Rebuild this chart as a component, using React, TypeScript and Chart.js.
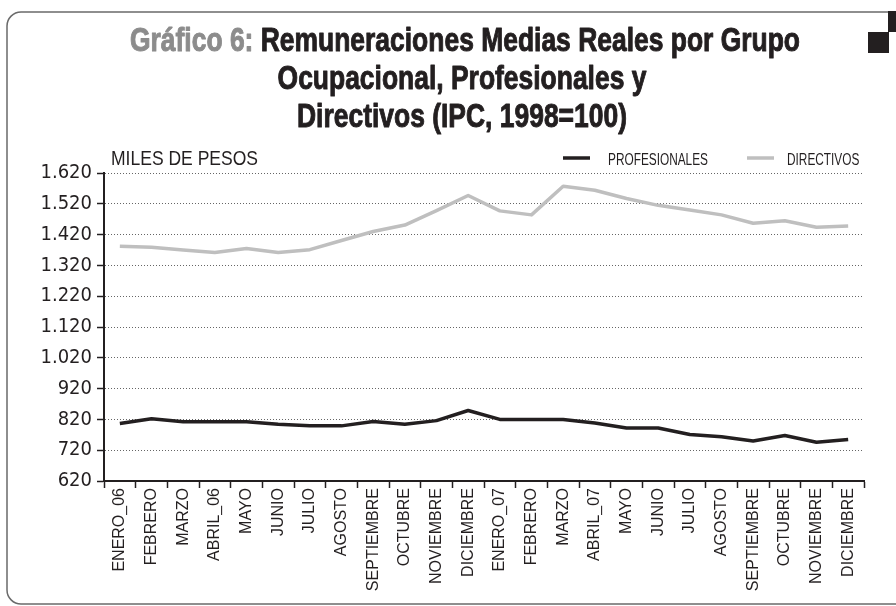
import React, { useEffect, useRef } from "react";
import { Chart, registerables } from "chart.js";

Chart.register(...registerables);

// ---------- data ----------
const categories = [
  "ENERO_06", "FEBRERO", "MARZO", "ABRIL_06", "MAYO", "JUNIO", "JULIO", "AGOSTO",
  "SEPTIEMBRE", "OCTUBRE", "NOVIEMBRE", "DICIEMBRE",
  "ENERO_07", "FEBRERO", "MARZO", "ABRIL_07", "MAYO", "JUNIO", "JULIO", "AGOSTO",
  "SEPTIEMBRE", "OCTUBRE", "NOVIEMBRE", "DICIEMBRE",
];
const profesionales = [
  807, 822, 812, 812, 812, 804, 799, 799, 813, 804, 816, 849,
  820, 820, 820, 808, 792, 792, 771, 764, 750, 768, 746, 755,
];
const directivos = [
  1382, 1379, 1370, 1362, 1375, 1362, 1371, 1401, 1430, 1451, 1498, 1547,
  1497, 1484, 1577, 1564, 1537, 1515, 1500, 1484, 1457, 1465, 1444, 1448,
];
const seriesNames = ["PROFESIONALES", "DIRECTIVOS"];
const yMin = 620;
const yMax = 1620;
const yStep = 100;
const titlePrefix = "Gráfico 6: ";
const titleLines = [
  "Remuneraciones Medias Reales por Grupo",
  "Ocupacional, Profesionales y",
  "Directivos (IPC, 1998=100)",
];
const yAxisTitle = "MILES DE PESOS";

// ---------- styles ----------
const DARK = "#231f20";
const LIGHT = "#bfbfbf";
const GREY_TITLE = "#8c8c8c";
const NARROW = '"Liberation Sans Narrow", "DejaVu Sans Condensed", "Arial Narrow", "Liberation Sans", sans-serif';
const SANS = '"Liberation Sans", Arial, Helvetica, sans-serif';

const fmt = (n: number) => String(n).replace(/\B(?=(\d{3})+(?!\d))/g, ".");

function drawScaled(ctx: CanvasRenderingContext2D, text: string, x: number, y: number, sx: number, stroke = 0) {
  ctx.save();
  ctx.translate(x, y);
  ctx.scale(sx, 1);
  ctx.fillText(text, 0, 0);
  if (stroke > 0) {
    ctx.lineWidth = stroke;
    ctx.lineJoin = "round";
    ctx.strokeStyle = ctx.fillStyle as string;
    ctx.strokeText(text, 0, 0);
  }
  ctx.restore();
}

const decorPlugin = {
  id: "decor",
  beforeDraw(chart: any) {
    const ctx: CanvasRenderingContext2D = chart.ctx;
    ctx.save();
    // frame
    ctx.strokeStyle = "#6a6a6a";
    ctx.lineWidth = 1.5;
    ctx.beginPath();
    (ctx as any).roundRect(7, 12, 920, 592, 14);
    ctx.stroke();
    // black squares top-right
    ctx.fillStyle = DARK;
    ctx.fillRect(888, 11, 8, 21);
    ctx.fillRect(868, 32, 21, 21);

    // title
    ctx.textBaseline = "alphabetic";
    ctx.textAlign = "left";
    ctx.font = `bold 34px ${SANS}`;
    const wPrefix = ctx.measureText(titlePrefix).width;
    const w1 = ctx.measureText(titleLines[0]).width;
    const sx = 670 / (wPrefix + w1);
    const cx = 465;
    const baselines = [51, 89, 127];
    const startX = cx - ((wPrefix + w1) * sx) / 2;
    ctx.fillStyle = GREY_TITLE;
    drawScaled(ctx, titlePrefix, startX, baselines[0], sx, 1);
    ctx.fillStyle = DARK;
    drawScaled(ctx, titleLines[0], startX + wPrefix * sx, baselines[0], sx, 1);
    for (let i = 1; i < titleLines.length; i++) {
      const w = ctx.measureText(titleLines[i]).width * sx;
      drawScaled(ctx, titleLines[i], cx - 3 - w / 2, baselines[i], sx, 1);
    }

    // y axis title
    ctx.font = `21px ${SANS}`;
    const wm = ctx.measureText(yAxisTitle).width;
    ctx.fillStyle = DARK;
    drawScaled(ctx, yAxisTitle, 111, 165, 147 / wm);
    ctx.restore();
  },
  afterDraw(chart: any) {
    const ctx: CanvasRenderingContext2D = chart.ctx;
    ctx.save();
    ctx.font = `16px ${SANS}`;
    const wp = ctx.measureText(seriesNames[0]).width;
    const lsx = 100 / wp;
    const items = [
      { lx: 563, tx: 608 },
      { lx: 747, tx: 787 },
    ];
    chart.data.datasets.forEach((ds: any, i: number) => {
      const it = items[i];
      ctx.strokeStyle = ds.borderColor;
      ctx.lineWidth = 3.5;
      ctx.beginPath();
      ctx.moveTo(it.lx, 158);
      ctx.lineTo(it.lx + 27, 158);
      ctx.stroke();
      ctx.fillStyle = DARK;
      ctx.textBaseline = "alphabetic";
      drawScaled(ctx, ds.label, it.tx, 164.5, lsx);
    });
    ctx.restore();
  },
};

export default function App() {
  const ref = useRef<HTMLCanvasElement>(null);
  useEffect(() => {
    if (!ref.current) return;
    const chart = new Chart(ref.current, {
      type: "line",
      data: {
        labels: categories,
        datasets: [
          {
            label: seriesNames[0],
            data: profesionales,
            borderColor: DARK,
            backgroundColor: DARK,
            borderWidth: 3.5,
            pointRadius: 0,
            tension: 0,
            borderJoinStyle: "round",
          },
          {
            label: seriesNames[1],
            data: directivos,
            borderColor: LIGHT,
            backgroundColor: LIGHT,
            borderWidth: 3.5,
            pointRadius: 0,
            tension: 0,
            borderJoinStyle: "round",
          },
        ],
      },
      options: {
        responsive: false,
        animation: false,
        devicePixelRatio: 1,
        layout: { padding: { top: 173, right: 32, left: 0, bottom: 0 } },
        plugins: {
          legend: { display: false },
          tooltip: { enabled: false },
          title: { display: false },
        },
        scales: {
          x: {
            type: "category",
            offset: true,
            grid: {
              display: true,
              drawOnChartArea: false,
              drawTicks: true,
              offset: true,
              tickLength: 7,
              tickColor: DARK,
              tickWidth: 1.5,
            },
            border: { display: true, color: DARK, width: 2 },
            ticks: {
              autoSkip: false,
              maxRotation: 90,
              minRotation: 90,
              padding: 0,
              color: DARK,
              font: { family: SANS, size: 16 },
            },
            afterFit: (s: any) => {
              s.height = 125;
            },
          },
          y: {
            min: yMin,
            max: yMax,
            ticks: {
              stepSize: yStep,
              padding: 5,
              color: DARK,
              font: { family: NARROW, size: 20 },
              callback: (v: any) => fmt(Number(v)),
            },
            grid: {
              color: "#666",
              lineWidth: 1,
              tickLength: 7,
              tickColor: DARK,
              tickWidth: 1.5,
              tickBorderDash: [],
            },
            border: { display: true, color: DARK, width: 2, dash: [1, 2] },
            afterFit: (s: any) => {
              s.width = 104;
            },
          },
        },
      } as any,
      plugins: [decorPlugin],
    });
    return () => chart.destroy();
  }, []);
  return (
    <canvas
      ref={ref}
      width={896}
      height={606}
      style={{ position: "fixed", left: 0, top: 0, width: 896, height: 606, background: "#fff" }}
    />
  );
}
